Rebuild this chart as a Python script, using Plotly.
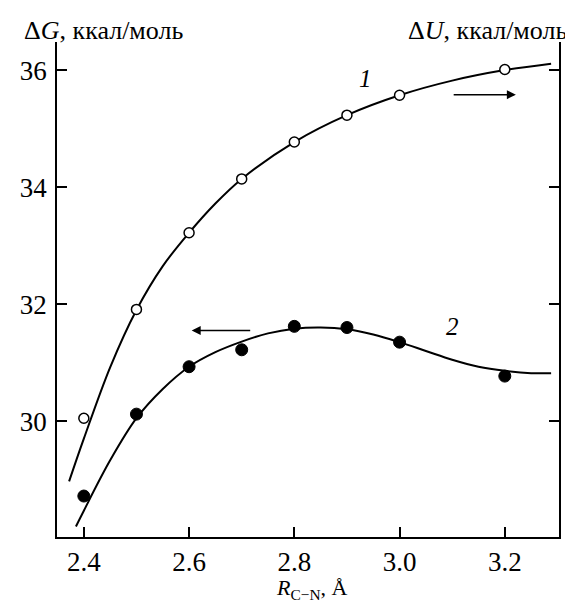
import plotly.graph_objects as go

# Data points
r_pts = [2.4, 2.5, 2.6, 2.7, 2.8, 2.9, 3.0, 3.2]
dU_pts = [30.05, 31.91, 33.22, 34.14, 34.77, 35.23, 35.57, 36.01]
dG_pts = [28.72, 30.12, 30.93, 31.22, 31.62, 31.60, 31.35, 30.77]

# Fitted curves
curve1_x = [2.372, 2.4, 2.45, 2.5, 2.55, 2.6, 2.65, 2.7, 2.8, 2.9, 3.0, 3.1, 3.2, 3.288]
curve1_y = [28.97, 29.70, 30.92, 31.90, 32.65, 33.22, 33.72, 34.14, 34.77, 35.23, 35.57, 35.82, 36.00, 36.11]
curve2_x = [2.385, 2.4, 2.45, 2.5, 2.55, 2.6, 2.65, 2.7, 2.75, 2.8, 2.85, 2.9, 2.95, 3.0,
            3.05, 3.1, 3.15, 3.2, 3.25, 3.288]
curve2_y = [28.20, 28.47, 29.33, 30.05, 30.55, 30.93, 31.18, 31.36, 31.50, 31.58, 31.60, 31.57,
            31.48, 31.35, 31.20, 31.05, 30.93, 30.86, 30.82, 30.82]

x_ticks = [2.4, 2.6, 2.8, 3.0, 3.2]
x_ticktext = ["2.4", "2.6", "2.8", "3.0", "3.2"]
y_ticks = [30, 32, 34, 36]
y_ticktext = ["30", "32", "34", "36"]

FONT = "Liberation Serif"

# page body has an 8px margin; layout below compensates so the plot lands where the reference has it
L, R, T, B = 36, 22, 34, 73
PW, PH = 573 - L - R, 602 - T - B


def px(xw):
    return (xw - 8 - L) / PW


def py(yw):
    return (602 - B - (yw - 8)) / PH


fig = go.Figure()
fig.add_trace(go.Scatter(x=curve1_x, y=curve1_y, mode="lines", line=dict(color="black", width=2, shape="spline"),
                         showlegend=False, hoverinfo="skip"))
fig.add_trace(go.Scatter(x=curve2_x, y=curve2_y, mode="lines", line=dict(color="black", width=2, shape="spline"),
                         showlegend=False, hoverinfo="skip"))
fig.add_trace(go.Scatter(x=r_pts, y=dU_pts, mode="markers",
                         marker=dict(size=10, color="white", line=dict(color="black", width=1.5)),
                         showlegend=False))
fig.add_trace(go.Scatter(x=r_pts, y=dG_pts, mode="markers",
                         marker=dict(size=12, color="black", line=dict(color="black", width=1)),
                         showlegend=False))

# arrows
fig.add_annotation(x=3.221, y=35.58, ax=3.10, ay=35.58, xref="x", yref="y", axref="x", ayref="y",
                   showarrow=True, arrowhead=2, arrowsize=1.2, arrowwidth=1.5, arrowcolor="black", text="")
fig.add_annotation(x=2.605, y=31.55, ax=2.719, ay=31.55, xref="x", yref="y", axref="x", ayref="y",
                   showarrow=True, arrowhead=2, arrowsize=1.2, arrowwidth=1.5, arrowcolor="black", text="")

# curve labels
fig.add_annotation(x=2.935, y=35.86, text="<i>1</i>", showarrow=False, font=dict(family=FONT, size=25, color="black"))
fig.add_annotation(x=3.10, y=31.62, text="<i>2</i>", showarrow=False, font=dict(family=FONT, size=25, color="black"))

# axis titles
fig.add_annotation(xref="paper", yref="paper", x=px(8), y=py(30), xanchor="left", yanchor="middle",
                   text="Δ<i>G</i>, ккал/моль", showarrow=False, font=dict(family=FONT, size=26, color="black"))
fig.add_annotation(xref="paper", yref="paper", x=px(569), y=py(30), xanchor="right", yanchor="middle",
                   text="Δ<i>U</i>, ккал/моль", showarrow=False, font=dict(family=FONT, size=26, color="black"))
fig.add_annotation(xref="paper", yref="paper", x=px(306), y=py(573), xanchor="center", yanchor="top",
                   text="<i>R</i><sub>C−N</sub>, Å", showarrow=False, font=dict(family=FONT, size=22, color="black"))

fig.update_layout(
    width=573, height=602,
    margin=dict(l=L, r=R, t=T, b=B),
    plot_bgcolor="white", paper_bgcolor="white",
    font=dict(family=FONT, size=27, color="black"),
    xaxis=dict(range=[2.349, 3.303], tickvals=x_ticks, ticktext=x_ticktext, ticks="inside", ticklen=10,
               tickwidth=1.5, tickcolor="black", showline=True, linecolor="black", linewidth=1.5,
               showgrid=False, zeroline=False, mirror=False, ticklabelstandoff=0),
    yaxis=dict(range=[28.02, 36.48], tickvals=y_ticks, ticktext=y_ticktext, ticks="inside", ticklen=10,
               tickwidth=1.5, tickcolor="black", showline=True, linecolor="black", linewidth=1.5,
               showgrid=False, zeroline=False, mirror="ticks", ticklabelstandoff=3),
)

fig.write_html("out.html")
